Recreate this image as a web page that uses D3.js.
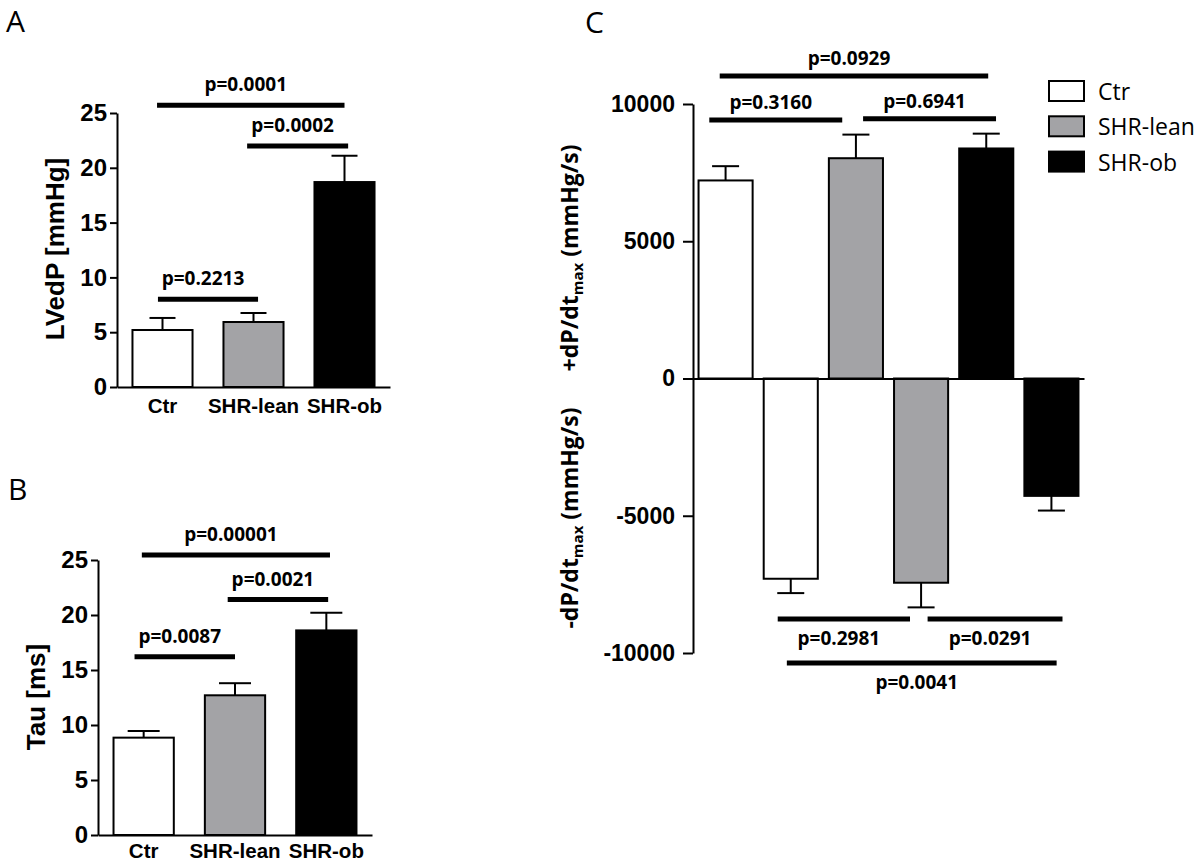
<!DOCTYPE html>
<html><head><meta charset="utf-8">
<script src="https://cdn.jsdelivr.net/npm/d3@7"></script>
<style>body{margin:0;background:#fff;} svg{display:block}</style>
</head><body>
<svg id="chart" width="1200" height="868"></svg>
<script>
// ---------- data ----------
const categories = ["Ctr", "SHR-lean", "SHR-ob"];
const lvedpMean = [5.2, 5.93, 18.7];
const lvedpSem  = [1.1, 0.82, 2.4];
const tauMean   = [8.85, 12.7, 18.6];
const tauSem    = [0.6, 1.1, 1.6];
const dpdtMaxMean = [7215, 8025, 8380];
const dpdtMaxSem  = [520, 860, 540];
const dpdtMinMean = [-7295, -7440, -4276];
const dpdtMinSem  = [523, 898, 535];
const ticksAB = [0, 5, 10, 15, 20, 25];
const ticksC  = [-10000, -5000, 0, 5000, 10000];
// significance brackets: from/to in category-slot units, y in data units
const sigA = [
  {label: "p=0.0001", from: -0.06, to: 2.0, y: 25.7},
  {label: "p=0.0002", from: 0.93, to: 2.04, y: 22.0},
  {label: "p=0.2213", from: -0.05, to: 1.05, y: 8.0}
];
const sigB = [
  {label: "p=0.00001", from: -0.02, to: 2.04, y: 25.45},
  {label: "p=0.0021", from: 0.92, to: 2.02, y: 21.4},
  {label: "p=0.0087", from: -0.1, to: 1.0, y: 16.2}
];
const sigC = [
  {label: "p=0.0929", from: -0.09, to: 4.03, y: 11020, side: "above"},
  {label: "p=0.3160", from: -0.25, to: 1.79, y: 9417, side: "above"},
  {label: "p=0.6941", from: 2.11, to: 4.15, y: 9465, side: "above"},
  {label: "p=0.2981", from: 0.80, to: 2.83, y: -8761, side: "below"},
  {label: "p=0.0291", from: 3.10, to: 5.17, y: -8761, side: "below"},
  {label: "p=0.0041", from: 0.94, to: 5.08, y: -10364, side: "below"}
];

// ---------- style ----------
const fills = ["#ffffff", "#a3a3a6", "#000000"];
const ARIAL = "'Liberation Sans', Arial, sans-serif";
const CAL = "'Open Sans', 'Noto Sans', sans-serif";
const svg = d3.select("#chart");

function styleAxis(g, fs) {
  g.selectAll("path.domain").attr("stroke", "#000").attr("stroke-width", 2);
  g.selectAll(".tick line").attr("stroke", "#000").attr("stroke-width", 2);
  g.selectAll(".tick text").attr("fill", "#000").attr("font-family", ARIAL)
    .attr("font-weight", "bold").attr("font-size", fs);
}

function panelAB(cfg) {
  const x = d3.scaleBand().domain(categories).range([cfg.left, cfg.right])
    .paddingInner(0.34).paddingOuter(0.17);
  const y = d3.scaleLinear().domain([0, 25]).range([cfg.bottom, cfg.top]);
  const g = svg.append("g");
  g.selectAll("rect.bar").data(categories).join("rect")
    .attr("x", d => x(d)).attr("width", x.bandwidth())
    .attr("y", (d, i) => y(cfg.mean[i]))
    .attr("height", (d, i) => y(0) - y(cfg.mean[i]))
    .attr("fill", (d, i) => fills[i]).attr("stroke", "#000").attr("stroke-width", 2);
  categories.forEach((c, i) => {
    const cx = x(c) + x.bandwidth() / 2;
    g.append("line").attr("x1", cx).attr("x2", cx)
      .attr("y1", y(cfg.mean[i])).attr("y2", y(cfg.mean[i] + cfg.sem[i]))
      .attr("stroke", "#000").attr("stroke-width", 2);
    g.append("line").attr("x1", cx - cfg.cap / 2).attr("x2", cx + cfg.cap / 2)
      .attr("y1", y(cfg.mean[i] + cfg.sem[i])).attr("y2", y(cfg.mean[i] + cfg.sem[i]))
      .attr("stroke", "#000").attr("stroke-width", 2);
  });
  const ya = g.append("g").attr("transform", `translate(${cfg.left},0)`)
    .call(d3.axisLeft(y).tickValues(ticksAB).tickSize(7).tickSizeOuter(0).tickPadding(3));
  styleAxis(ya, 24);
  const xa = g.append("g").attr("transform", `translate(0,${cfg.bottom})`)
    .call(d3.axisBottom(x).tickSize(0).tickSizeOuter(0).tickPadding(cfg.catPad));
  styleAxis(xa, 20.5);
  g.append("text").attr("transform", `translate(${cfg.titleX},${cfg.titleY}) rotate(-90)`)
    .attr("text-anchor", "middle").attr("font-family", ARIAL).attr("font-weight", "bold")
    .attr("font-size", 26).text(cfg.title);
  const slot = d3.scaleLinear().domain([0, categories.length - 1])
    .range([x(categories[0]) + x.bandwidth() / 2, x(categories[categories.length - 1]) + x.bandwidth() / 2]);
  cfg.sig.forEach(s => {
    g.append("line").attr("x1", slot(s.from)).attr("x2", slot(s.to))
      .attr("y1", y(s.y)).attr("y2", y(s.y)).attr("stroke", "#000").attr("stroke-width", 5);
    g.append("text").attr("x", (slot(s.from) + slot(s.to)) / 2 - 5).attr("y", y(s.y) - 14)
      .attr("text-anchor", "middle").attr("font-family", CAL).attr("font-weight", "bold")
      .attr("font-size", 19).text(s.label);
  });
  svg.append("text").attr("x", cfg.letterX).attr("y", cfg.letterY)
    .attr("font-family", CAL).attr("font-size", 30).text(cfg.letter);
}

panelAB({left: 117, right: 390, bottom: 387, top: 113, mean: lvedpMean, sem: lvedpSem,
  cap: 26, catPad: 11, title: "LVedP [mmHg]", titleX: 64, titleY: 249, sig: sigA,
  letter: "A", letterX: 6, letterY: 32});
panelAB({left: 98, right: 372, bottom: 835, top: 560, mean: tauMean, sem: tauSem,
  cap: 32, catPad: 8.5, title: "Tau [ms]", titleX: 45, titleY: 697, sig: sigB,
  letter: "B", letterX: 8, letterY: 500});

// ---------- panel C ----------
(function () {
  const left = 693, right = 1084;
  const slots = [];
  categories.forEach(c => { slots.push(c + "+"); slots.push(c + "-"); });
  const x = d3.scaleBand().domain(slots).range([left, right]).paddingInner(0.17).paddingOuter(0.085);
  const y = d3.scaleLinear().domain([-10000, 10000]).range([653, 104]);
  const g = svg.append("g");
  const rows = [];
  categories.forEach((c, i) => {
    rows.push({key: c + "+", v: dpdtMaxMean[i], e: dpdtMaxSem[i], fill: fills[i]});
    rows.push({key: c + "-", v: dpdtMinMean[i], e: dpdtMinSem[i], fill: fills[i]});
  });
  g.selectAll("rect.bar").data(rows).join("rect")
    .attr("x", d => x(d.key)).attr("width", x.bandwidth())
    .attr("y", d => Math.min(y(d.v), y(0)))
    .attr("height", d => Math.abs(y(d.v) - y(0)))
    .attr("fill", d => d.fill).attr("stroke", "#000").attr("stroke-width", 2);
  rows.forEach(d => {
    const cx = x(d.key) + x.bandwidth() / 2;
    const tip = d.v >= 0 ? d.v + d.e : d.v - d.e;
    g.append("line").attr("x1", cx).attr("x2", cx).attr("y1", y(d.v)).attr("y2", y(tip))
      .attr("stroke", "#000").attr("stroke-width", 2);
    g.append("line").attr("x1", cx - 13.5).attr("x2", cx + 13.5).attr("y1", y(tip)).attr("y2", y(tip))
      .attr("stroke", "#000").attr("stroke-width", 2);
  });
  const ya = g.append("g").attr("transform", `translate(${left},0)`)
    .call(d3.axisLeft(y).tickValues(ticksC).tickSize(10).tickSizeOuter(0).tickPadding(8)
      .tickFormat(d => String(d)));
  styleAxis(ya, 23);
  const xa = g.append("g").attr("transform", `translate(0,${y(0)})`)
    .call(d3.axisBottom(x).tickSize(0).tickSizeOuter(0).tickFormat(""));
  styleAxis(xa, 20);
  function ctitle(sign, cy) {
    const t = g.append("text").attr("transform", `translate(578,${cy}) rotate(-90)`)
      .attr("text-anchor", "middle").attr("font-family", CAL).attr("font-weight", "bold")
      .attr("font-size", 23);
    t.append("tspan").text(sign + "dP/dt");
    t.append("tspan").attr("font-size", 15).attr("dy", 5).text("max");
    t.append("tspan").attr("dy", -5).text(" (mmHg/s)");
  }
  ctitle("+", 258);
  ctitle("-", 518);
  const slot = d3.scaleLinear().domain([0, slots.length - 1])
    .range([x(slots[0]) + x.bandwidth() / 2, x(slots[slots.length - 1]) + x.bandwidth() / 2]);
  sigC.forEach(s => {
    g.append("line").attr("x1", slot(s.from)).attr("x2", slot(s.to))
      .attr("y1", y(s.y)).attr("y2", y(s.y)).attr("stroke", "#000").attr("stroke-width", 5);
    g.append("text").attr("x", (slot(s.from) + slot(s.to)) / 2 - 5)
      .attr("y", s.side === "above" ? y(s.y) - 11 : y(s.y) + 26)
      .attr("text-anchor", "middle").attr("font-family", CAL).attr("font-weight", "bold")
      .attr("font-size", 19).text(s.label);
  });
  const lg = svg.append("g").attr("transform", "translate(1049,81)");
  categories.forEach((c, i) => {
    lg.append("rect").attr("x", 0).attr("y", i * 35.3).attr("width", 35).attr("height", 20)
      .attr("fill", fills[i]).attr("stroke", "#000").attr("stroke-width", 2);
    lg.append("text").attr("x", 49).attr("y", i * 35.3 + 19).attr("font-family", CAL)
      .attr("font-size", 23).text(c);
  });
  svg.append("text").attr("x", 585).attr("y", 33).attr("font-family", CAL)
    .attr("font-size", 30).text("C");
})();
</script>
</body></html>
